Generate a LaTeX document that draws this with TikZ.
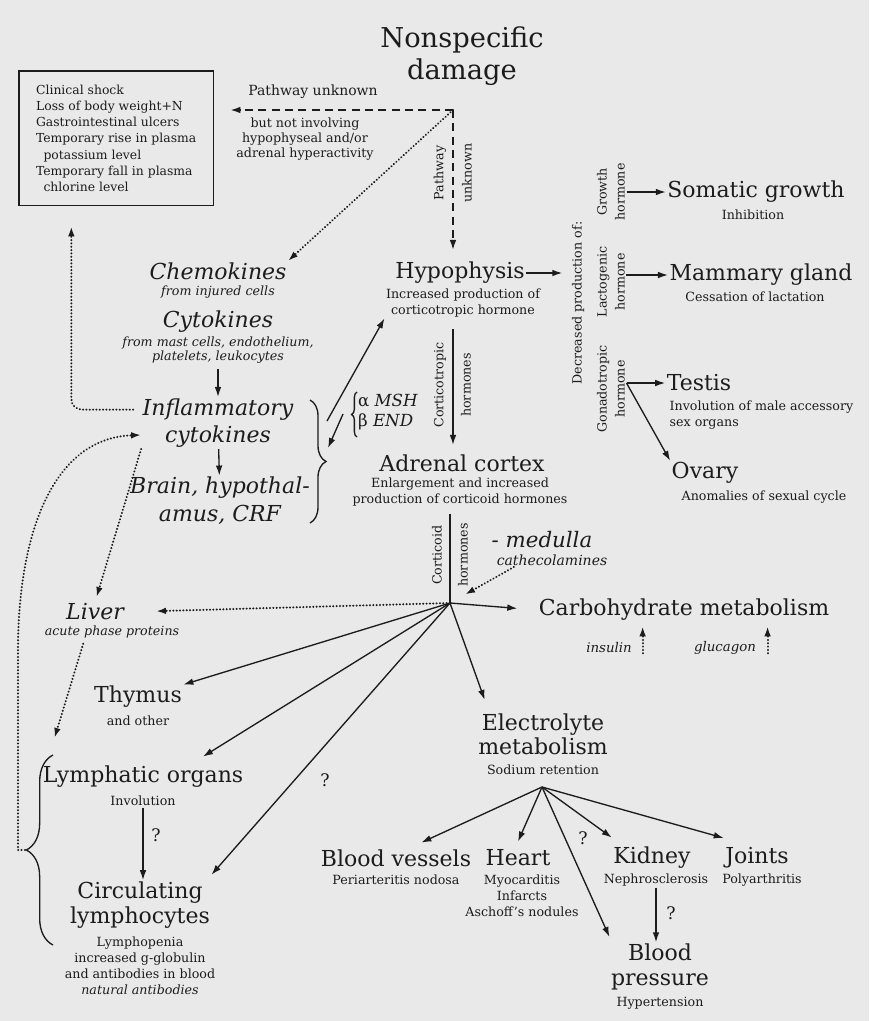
\documentclass[tikz,border=0pt]{standalone}
\usepackage{fontspec}
\setmainfont{DejaVu Serif}
\usepackage{tikz}
\usetikzlibrary{arrows.meta}
\usetikzlibrary{calc}
\usetikzlibrary{decorations.pathreplacing}
\definecolor{paper}{RGB}{233,233,233}
\definecolor{ink}{RGB}{28,28,28}
\tikzstyle{organ} = [font=\fontsize{16.5}{19}\selectfont, align=center, inner sep=1pt]
\tikzstyle{iorgan} = [font=\fontsize{16.5}{20.5}\selectfont\itshape, align=center, inner sep=1pt]
\tikzstyle{note} = [font=\fontsize{9.5}{11.5}\selectfont, align=center, inner sep=1pt]
\tikzstyle{inote} = [font=\fontsize{9.5}{10.5}\selectfont\itshape, align=center, inner sep=1pt]
\tikzstyle{vnote} = [note, rotate=90, font=\fontsize{9.5}{13.5}\selectfont]
\tikzstyle{query} = [font=\fontsize{13}{15}\selectfont, inner sep=1pt]
\tikzstyle{listbox} = [draw, line width=1.3pt, anchor=north west, align=left,
   minimum width=146pt, minimum height=101pt, font=\fontsize{9.3}{12.15}\selectfont]
\tikzstyle{arr} = [line width=1pt, -{Latex[length=7.5pt,width=5pt]}]
\tikzstyle{dotarr} = [arr, line width=1.6pt, line cap=round, dash pattern=on 0.1pt off 2.4pt]
\tikzstyle{dasharr} = [arr, line width=1.2pt, dash pattern=on 6pt off 4pt]
\tikzstyle{curly} = [line width=1pt, decorate]

\begin{document}
\begin{tikzpicture}[x=0.75pt, y=-0.75pt, ink] %1 unit = 1 px
  \fill [paper] (0,0) rectangle (869,1021);
  \useasboundingbox (0,0) rectangle (869,1021);

  \node [organ, font=\fontsize{20.5}{24}\selectfont] (damage) at (462,56) {Nonspecific\\damage};
  \node [listbox] (effects) at (18,70) {Clinical shock\\Loss of body weight+N\\Gastrointestinal ulcers\\Temporary rise in plasma\\\hspace*{0.6em}potassium level\\Temporary fall in plasma\\\hspace*{0.6em}chlorine level};
  \coordinate (corner) at (453,110);
  \node [note, font=\fontsize{10.5}{12}\selectfont] (unknown) at (313,92) {Pathway unknown};
  \node [note, font=\fontsize{9.5}{11.3}\selectfont] (notinv) at (305,139) {but not involving\\hypophyseal and/or\\adrenal hyperactivity};
  \node [vnote] (pw1) at (440,173) {Pathway};
  \node [vnote] (pw2) at (467,173) {unknown};

  % left column
  \node [iorgan] (chemo) at (218,271) {Chemokines};
  \node [inote] (chemosub) at (218,292) {from injured cells};
  \node [iorgan] (cyto) at (218,322) {Cytokines};
  \node [inote] (cytosub) at (218,350) {from mast cells, endothelium,\\platelets, leukocytes};
  \node [iorgan] (infl) at (218,423) {Inflammatory\\cytokines};
  \node [iorgan, font=\fontsize{16.5}{21}\selectfont\itshape] (brain) at (220,501) {Brain, hypothal-\\amus, CRF};
  \node [note, align=left, font=\fontsize{12.5}{14.5}\selectfont] (msh) at (388,412) {α \textit{MSH}\\β \textit{END}};
  \coordinate (crfout) at (327,421);
  \coordinate (crfin) at (328,448);
  \coordinate (mshout) at (343,414);

  % hypophysis and adrenal
  \node [organ] (hypo) at (460,273) {Hypophysis};
  \node [note] (hyposub) at (463,303) {Increased production of\\corticotropic hormone};
  \node [vnote] (ct1) at (440,385) {Corticotropic};
  \node [vnote] (ct2) at (466,385) {hormones};
  \node [organ] (adrenal) at (462,463) {Adrenal cortex};
  \node [note] (adrenalsub) at (460,492) {Enlargement and increased\\production of corticoid hormones};
  \node [vnote] (cd1) at (437,555) {Corticoid};
  \node [vnote] (cd2) at (463,555) {hormones};
  \coordinate (hub) at (450,603);
  \node [iorgan, font=\fontsize{16}{19}\selectfont\itshape] (medulla) at (542,540) {- medulla};
  \node [inote, font=\fontsize{10.5}{12}\selectfont\itshape] (medsub) at (552,560) {cathecolamines};

  % pituitary outputs
  \node [vnote] (decr) at (578,303) {Decreased production of:};
  \node [vnote] (growth) at (611,192) {Growth\\hormone};
  \node [vnote] (lacto) at (611,282) {Lactogenic\\hormone};
  \node [vnote] (gonado) at (611,389) {Gonadotropic\\hormone};
  \node [organ] (somatic) at (756,192) {Somatic growth};
  \node [note] (somsub) at (753,215) {Inhibition};
  \node [organ] (mammary) at (761,275) {Mammary gland};
  \node [note] (mamsub) at (755,297) {Cessation of lactation};
  \node [organ] (testis) at (699,383) {Testis};
  \node [note, align=left, anchor=west] (testsub) at (668,415) {Involution of male accessory\\sex organs};
  \node [organ] (ovary) at (705,473) {Ovary};
  \node [note] (ovsub) at (764,497) {Anomalies of sexual cycle};

  % metabolism
  \node [organ] (carb) at (684,610) {Carbohydrate metabolism};
  \node [inote, font=\fontsize{10}{12}\selectfont\itshape] (insulin) at (609,648) {insulin};
  \node [inote, font=\fontsize{10}{12}\selectfont\itshape] (glucagon) at (725,648) {glucagon};
  \node [iorgan] (liver) at (95,612) {Liver};
  \node [inote] (liversub) at (112,632) {acute phase proteins};

  % lymphatic side
  \node [organ] (thymus) at (138,697) {Thymus};
  \node [note] (thymsub) at (138,721) {and other};
  \node [organ] (lymph) at (143,777) {Lymphatic organs};
  \node [note] (lymphsub) at (143,801) {Involution};
  \node [organ, font=\fontsize{16.5}{18.75}\selectfont] (circ) at (140,905) {Circulating\\lymphocytes};
  \node [note, font=\fontsize{9.5}{12}\selectfont] (circsub) at (140,966) {Lymphopenia\\increased g-globulin\\and antibodies in blood\\\textit{natural antibodies}};
  \node [query] (q1) at (325,780) {?};
  \node [query] (q2) at (156,835) {?};
  \coordinate (lbrace) at (25,850);

  % electrolytes
  \node [organ, font=\fontsize{16.5}{18}\selectfont] (elec) at (543,734) {Electrolyte\\metabolism};
  \node [note] (elecsub) at (543,770) {Sodium retention};
  \coordinate (ehub) at (542,787);
  \node [organ] (bv) at (396,858) {Blood vessels};
  \node [note] (bvsub) at (396,880) {Periarteritis nodosa};
  \node [organ] (heart) at (518,858) {Heart};
  \node [note, font=\fontsize{9.5}{12}\selectfont] (heartsub) at (522,896) {Myocarditis\\Infarcts\\Aschoff's nodules};
  \node [organ] (kidney) at (652,858) {Kidney};
  \node [note] (kidsub) at (656,880) {Nephrosclerosis};
  \node [organ] (joints) at (757,858) {Joints};
  \node [note] (jointsub) at (762,880) {Polyarthritis};
  \node [organ, font=\fontsize{16.5}{18.75}\selectfont] (bp) at (660,967) {Blood\\pressure};
  \node [note] (bpsub) at (660,1003) {Hypertension};
  \node [query] (q3) at (583,838) {?};
  \node [query] (q4) at (671,913) {?};

  % connectors
  \draw [dasharr, shorten >=12pt] (corner) -- (corner -| effects.east);
  \draw [dasharr, shorten >=8pt] (corner) -- (corner |- hypo.north);
  \draw [dotarr] (corner) -- (chemo.north east);
  \draw [arr, shorten <=3pt] (cytosub) -- (infl);
  \draw [arr] (infl) -- (brain);
  \draw [curly, decoration={brace, amplitude=12pt}] (310,400) -- (310,523);
  \draw [curly, decoration={brace, amplitude=4pt}] (357,437) -- (357,392);
  \draw [arr] (crfout) -- (hyposub.south west);
  \draw [arr] (mshout) -- (crfin);
  \draw [arr, shorten >=6pt] (hypo.east) -- (hypo.east -| decr.north);
  \draw [arr, shorten <=8pt, shorten >=6pt] (hyposub.south -| corner) -- (adrenal.north -| corner);
  \draw [line width=1pt, shorten <=5pt] (adrenalsub.south -| hub) -- (hub);
  \draw [dotarr, shorten >=13pt] ([xshift=14pt]medsub.south west) -- (hub);
  \draw [arr] (growth.south) -- (somatic.west);
  \draw [arr] (lacto.south |- mammary.west) -- (mammary.west);
  \draw [arr] (gonado.south |- testis.west) -- (testis.west);
  \draw [arr] (gonado.south |- testis.west) -- (ovary.north west);
  \draw [arr, shorten >=15pt] (hub) -- (carb.west);
  \draw [dotarr] ([xshift=7pt,yshift=-4pt]insulin.east) -- ++(0,-27);
  \draw [dotarr] ([xshift=7.5pt,yshift=-4pt]glucagon.east) -- ++(0,-27);
  \draw [dotarr, shorten >=23pt] (hub) -- (liver.east);
  \draw [dotarr, shorten >=4pt] (infl.south west) -- (liver.north);
  \draw [dotarr, rounded corners=8pt, shorten <=6pt, shorten >=15pt] ([yshift=10pt]infl.west) -| ([xshift=40pt]effects.south west);
  \draw [dotarr] (lbrace) -- (18,850) -- (18,650) .. controls (18,540) and (50,438) .. ([yshift=-9pt]infl.west);
  \draw [dotarr] (liversub.south west) ++(40,4) -- ([xshift=10pt,yshift=20pt]lymph.north west);
  \draw [curly, decoration={brace, amplitude=20pt}] (53,945) -- (53,755);
  \draw [arr] (hub) -- (thymus.north east);
  \draw [arr] (hub) -- ([xshift=45pt,yshift=6pt]lymph.north);
  \draw [arr] (hub) -- ([yshift=4pt]circ.north east);
  \draw [arr] (lymphsub.south) -- (lymphsub.south |- circ.north);
  \draw [arr] (hub) -- ([yshift=9pt,xshift=6pt]elec.north west);
  \draw [arr] (ehub) -- ([xshift=19pt,yshift=4pt]bv.north);
  \draw [arr] (ehub) -- ([yshift=5pt]heart.north);
  \draw [arr] (ehub) -- ([yshift=4pt]bp.north west);
  \draw [arr] (ehub) -- ([yshift=6pt]kidney.north west);
  \draw [arr] (ehub) -- ([yshift=6pt]joints.north west);
  \draw [arr] (kidsub.south) -- (kidsub.south |- bp.north);
\end{tikzpicture}
\end{document}
